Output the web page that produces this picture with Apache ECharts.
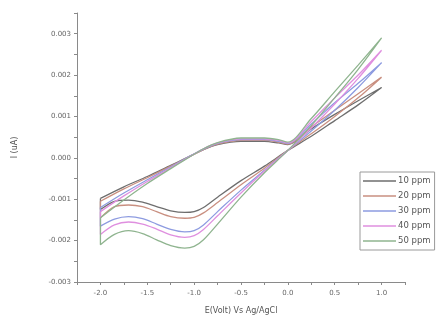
<!DOCTYPE html>
<html>
<head>
<meta charset="utf-8">
<script src="https://cdn.jsdelivr.net/npm/echarts@6/dist/echarts.min.js"></script>
<style>
  html, body { margin: 0; padding: 0; background: #fff; }
  #chart { width: 438px; height: 320px; }
</style>
</head>
<body>
<div id="chart"></div>
<script>
  // potentials (V) and currents in units of 0.001 (axis shows them /1000)
  const seriesNames = ["10 ppm", "20 ppm", "30 ppm", "40 ppm", "50 ppm"];
  const seriesColors = ["#6e6e6e", "#c98f80", "#8d9be0", "#df8fdf", "#8fb48f"];

  // forward scan, -2.0 -> 1.0
  const forwardE = [-2.0, -1.75, -1.5, -1.25, -1.1, -0.9, -0.75, -0.5, -0.25, -0.1, 0.0, 0.25, 0.5, 0.75, 1.0];
  const fwd10 = [-0.98, -0.70, -0.45, -0.18, -0.02, 0.20, 0.32, 0.40, 0.40, 0.36, 0.32, 0.70, 1.05, 1.38, 1.70];
  const fwd20 = [-1.05, -0.75, -0.48, -0.20, -0.03, 0.20, 0.33, 0.42, 0.42, 0.38, 0.33, 0.75, 1.15, 1.55, 1.95];
  const fwd30 = [-1.20, -0.85, -0.53, -0.22, -0.03, 0.21, 0.35, 0.44, 0.44, 0.40, 0.35, 0.82, 1.33, 1.80, 2.30];
  const fwd40 = [-1.30, -0.92, -0.57, -0.24, -0.04, 0.22, 0.36, 0.46, 0.46, 0.42, 0.36, 0.88, 1.45, 2.00, 2.60];
  const fwd50 = [-1.45, -1.02, -0.62, -0.26, -0.05, 0.22, 0.37, 0.48, 0.48, 0.44, 0.38, 0.95, 1.60, 2.24, 2.90];

  // reverse scan, 1.0 -> -2.0
  const reverseE = [1.0, 0.75, 0.5, 0.25, 0.0, -0.25, -0.5, -0.75, -0.9, -1.0, -1.1, -1.25, -1.4, -1.55, -1.7, -1.85, -2.0];
  const rev10 = [1.70, 1.28, 0.90, 0.52, 0.18, -0.20, -0.55, -0.95, -1.20, -1.30, -1.32, -1.28, -1.18, -1.07, -1.02, -1.05, -1.25];
  const rev20 = [1.95, 1.45, 1.00, 0.58, 0.18, -0.25, -0.65, -1.08, -1.33, -1.44, -1.46, -1.42, -1.30, -1.18, -1.14, -1.18, -1.45];
  const rev30 = [2.30, 1.70, 1.15, 0.65, 0.18, -0.30, -0.78, -1.30, -1.62, -1.76, -1.79, -1.73, -1.60, -1.47, -1.42, -1.48, -1.65];
  const rev40 = [2.60, 1.92, 1.30, 0.72, 0.18, -0.32, -0.85, -1.40, -1.73, -1.88, -1.92, -1.86, -1.72, -1.60, -1.55, -1.62, -1.85];
  const rev50 = [2.90, 2.14, 1.45, 0.78, 0.18, -0.36, -0.95, -1.60, -1.98, -2.14, -2.18, -2.12, -1.98, -1.83, -1.76, -1.85, -2.10];

  const forwardRows = [fwd10, fwd20, fwd30, fwd40, fwd50];
  const reverseRows = [rev10, rev20, rev30, rev40, rev50];

  function buildLoop(fwd, rev) {
    const pts = forwardE.map((e, i) => [e, fwd[i]]);
    rev.forEach((v, i) => { if (i > 0) pts.push([reverseE[i], v]); });
    pts.push([forwardE[0], fwd[0]]);
    return pts;
  }

  const axisGray = "#8a8a8a";
  const chart = echarts.init(document.getElementById("chart"));

  chart.setOption({
    animation: false,
    grid: { left: 77, right: 33, top: 13, bottom: 38 },
    xAxis: {
      type: "value",
      min: -2.25,
      max: 1.25,
      interval: 0.25,
      name: "E(Volt) Vs Ag/AgCl",
      nameLocation: "middle",
      nameGap: 25,
      nameTextStyle: { color: "#555", fontSize: 8, fontFamily: "DejaVu Sans" },
      splitLine: { show: false },
      axisLine: { show: true, onZero: false, lineStyle: { color: axisGray } },
      axisTick: { show: true, length: 3, lineStyle: { color: axisGray } },
      axisLabel: {
        color: "#666",
        fontSize: 7,
        fontFamily: "DejaVu Sans",
        margin: 8,
        formatter: (v) => (Math.abs(v * 2 - Math.round(v * 2)) < 1e-6 ? v.toFixed(1) : "")
      }
    },
    yAxis: {
      type: "value",
      min: -3,
      max: 3.5,
      interval: 0.5,
      name: "I (uA)",
      nameLocation: "middle",
      nameGap: 58,
      nameRotate: 90,
      nameTextStyle: { color: "#555", fontSize: 8, fontFamily: "DejaVu Sans" },
      splitLine: { show: false },
      axisLine: { show: true, onZero: false, lineStyle: { color: axisGray } },
      axisTick: { show: true, length: 3, lineStyle: { color: axisGray } },
      axisLabel: {
        color: "#666",
        fontSize: 7,
        fontFamily: "DejaVu Sans",
        margin: 6,
        formatter: (v) => (Math.abs(v - Math.round(v)) < 1e-6 && v <= 3 ? (v / 1000).toFixed(3) : "")
      }
    },
    legend: {
      orient: "vertical",
      left: 360,
      top: 172,
      padding: [4, 4, 4, 3],
      itemGap: 5,
      itemWidth: 33,
      itemHeight: 1.5,
      icon: "rect",
      borderColor: "#9a9a9a",
      borderWidth: 1,
      textStyle: { color: "#555", fontSize: 8.5, fontFamily: "DejaVu Sans", lineHeight: 10, padding: [0, 0, 0, -3] },
      data: seriesNames
    },
    series: seriesNames.map((name, k) => ({
      name: name,
      type: "line",
      data: buildLoop(forwardRows[k], reverseRows[k]),
      smooth: 0.3,
      showSymbol: false,
      symbol: "none",
      color: seriesColors[k],
      lineStyle: { width: 1.3, color: seriesColors[k] }
    }))
  });
</script>
</body>
</html>
